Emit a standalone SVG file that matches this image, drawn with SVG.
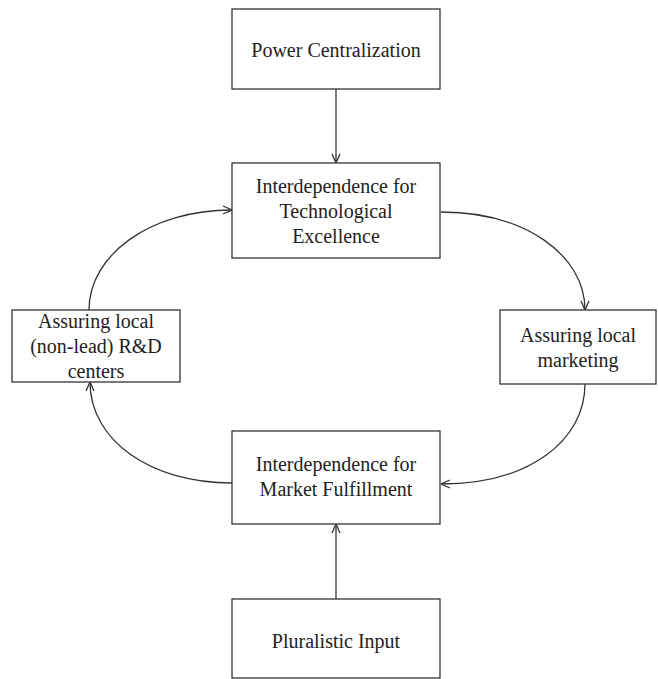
<svg xmlns="http://www.w3.org/2000/svg" width="658" height="679" viewBox="0 0 658 679">
<style>
.box{fill:#fff;stroke:#333;stroke-width:1.3}
.t{font-family:"Liberation Serif","Times New Roman",serif;font-size:20px;fill:#222;text-anchor:middle}
.c{fill:none;stroke:#333;stroke-width:1.3;marker-end:url(#a)}
</style>
<defs>
<marker id="a" viewBox="0 0 10 10" refX="10" refY="5" markerWidth="10" markerHeight="10" markerUnits="userSpaceOnUse" orient="auto">
<path d="M1,1 L10,5 L1,9" fill="none" stroke="#333" stroke-width="1.3"/>
</marker>
</defs>
<rect width="658" height="679" fill="#fff"/>
<g id="connectors">
<path class="c" d="M336,89 L336,163"/>
<path class="c" d="M441,212 C525,212 585,255 585,310"/>
<path class="c" d="M585,384 C585,440 530,484 441,484"/>
<path class="c" d="M232,483 C150,483 90,440 90,382"/>
<path class="c" d="M89,310 C89,255 150,210 232,210"/>
<path class="c" d="M336,599 L336,524"/>
</g>
<g id="power">
<rect class="box" x="232" y="9" width="208" height="80"/>
<text class="t" x="336" y="57">Power Centralization</text>
</g>
<g id="tech">
<rect class="box" x="232" y="163" width="208" height="95"/>
<text class="t" x="336" y="193">Interdependence for</text>
<text class="t" x="336" y="218">Technological</text>
<text class="t" x="336" y="243">Excellence</text>
</g>
<g id="rnd">
<rect class="box" x="12" y="310" width="168" height="72"/>
<text class="t" x="96" y="328">Assuring local</text>
<text class="t" x="96" y="353">(non-lead) R&amp;D</text>
<text class="t" x="96" y="378">centers</text>
</g>
<g id="marketing">
<rect class="box" x="500" y="310" width="156" height="74"/>
<text class="t" x="578" y="342">Assuring local</text>
<text class="t" x="578" y="367">marketing</text>
</g>
<g id="market">
<rect class="box" x="232" y="431" width="208" height="93"/>
<text class="t" x="336" y="471">Interdependence for</text>
<text class="t" x="336" y="496">Market Fulfillment</text>
</g>
<g id="plural">
<rect class="box" x="232" y="599" width="208" height="79"/>
<text class="t" x="336" y="648">Pluralistic Input</text>
</g>
</svg>
